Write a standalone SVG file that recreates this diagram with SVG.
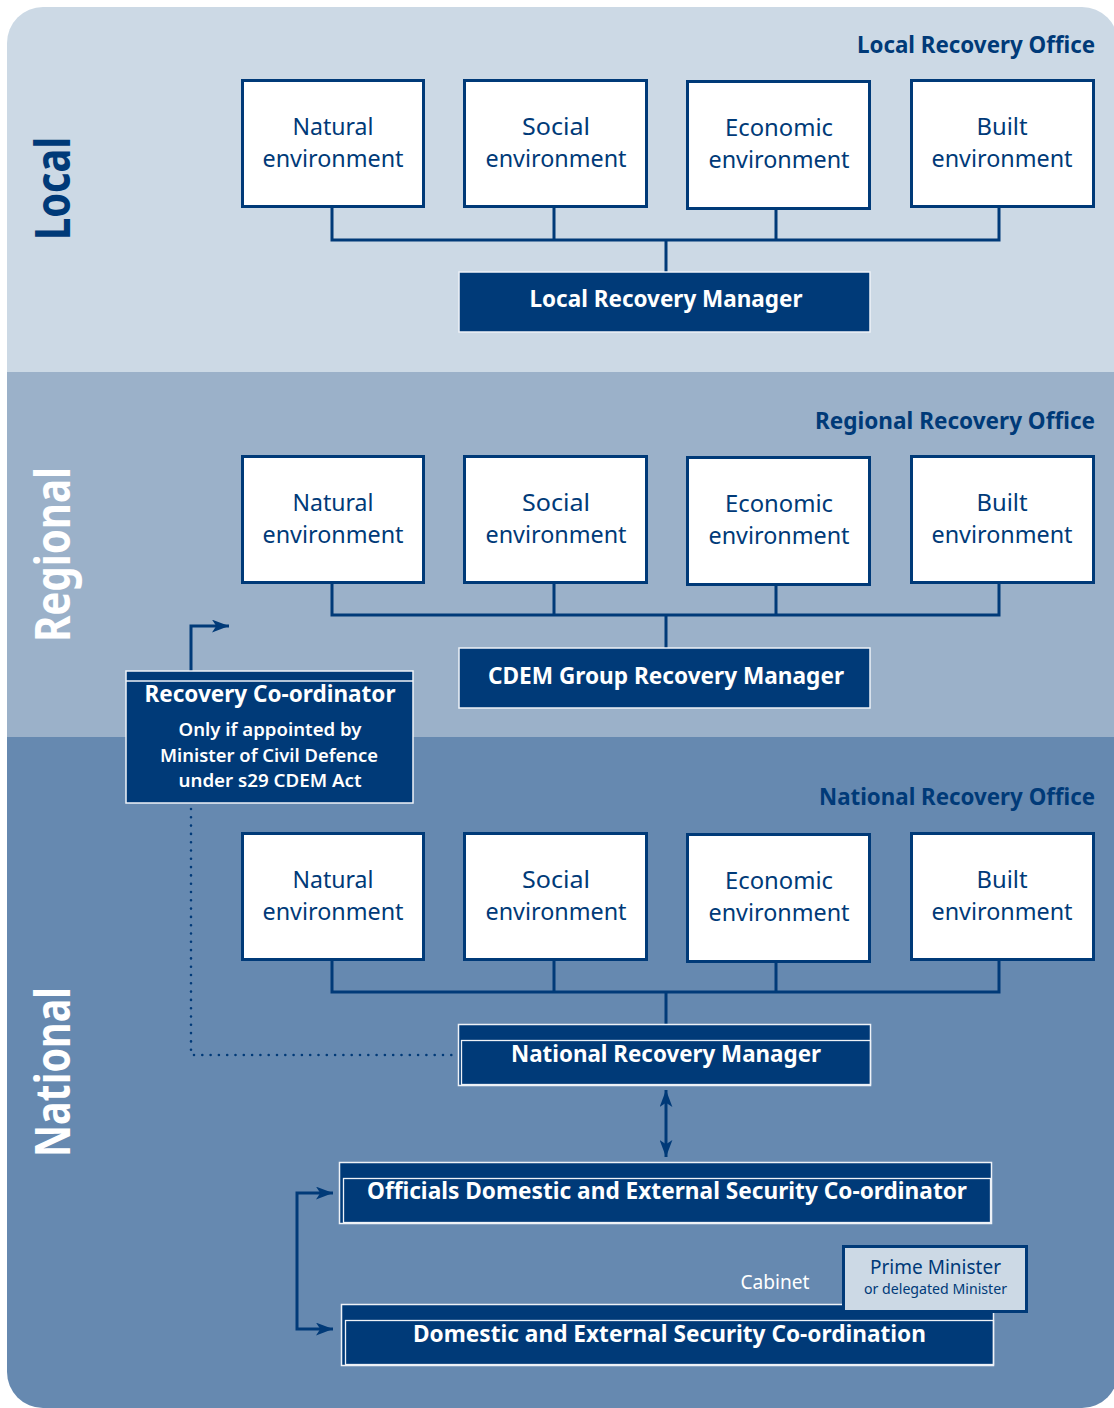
<svg xmlns="http://www.w3.org/2000/svg" width="1114" height="1408" viewBox="0 0 1114 1408">
<defs>
<style>
.env{fill:#fff;stroke:#003A78;stroke-width:3}
.et{font-family:"Noto Sans","Open Sans",sans-serif;font-size:24px;fill:#003A78;text-anchor:middle}
.mgr{fill:#003A78;stroke:#EEF2F7;stroke-width:1.5}
.inner{fill:none;stroke:#EEF2F7;stroke-width:1.3}
.mt{font-family:"Noto Sans","Open Sans",sans-serif;font-weight:bold;font-size:24px;fill:#fff;text-anchor:middle}
.st{font-family:"Noto Sans","Open Sans",sans-serif;font-weight:600;font-size:18px;fill:#fff;text-anchor:middle}
.office{font-family:"Noto Sans","Open Sans",sans-serif;font-weight:bold;font-size:23.5px;fill:#003A78}
.band{font-family:"Noto Sans","Open Sans",sans-serif;font-weight:bold;font-size:48px}
.ln{fill:none;stroke:#003A78;stroke-width:3}
.dot{fill:none;stroke:#003A78;stroke-width:2.6;stroke-linecap:round;stroke-dasharray:0 8.3}
</style>
<clipPath id="bg"><rect x="7" y="7" width="1111" height="1401" rx="36" ry="36"/></clipPath>
<marker id="ah" viewBox="0 0 16 12" markerWidth="17" markerHeight="13" refX="16" refY="6" orient="auto-start-reverse" markerUnits="userSpaceOnUse">
<path d="M0,0 L16,6 L0,12 L4,6 Z" fill="#003A78"/>
</marker>
</defs>
<rect x="0" y="0" width="1114" height="1408" fill="#fff"/>
<g id="background" clip-path="url(#bg)">
<rect x="7" y="7" width="1111" height="366" fill="#CCD9E5"/>
<rect x="7" y="372" width="1111" height="366" fill="#9BB1C9"/>
<rect x="7" y="737" width="1111" height="671" fill="#6689B0"/>
</g>
<g id="band-labels">
<text class="band" fill="#003A78" transform="translate(70,240) rotate(-90)" textLength="103" lengthAdjust="spacingAndGlyphs">Local</text>
<text class="band" fill="#fff" transform="translate(70,642) rotate(-90)" textLength="175" lengthAdjust="spacingAndGlyphs">Regional</text>
<text class="band" fill="#fff" transform="translate(70,1157) rotate(-90)" textLength="170" lengthAdjust="spacingAndGlyphs">National</text>
</g>
<g id="office-labels">
<text class="office" x="857" y="53" textLength="238" lengthAdjust="spacingAndGlyphs">Local Recovery Office</text>
<text class="office" x="815" y="429" textLength="280" lengthAdjust="spacingAndGlyphs">Regional Recovery Office</text>
<text class="office" x="819" y="805" textLength="276" lengthAdjust="spacingAndGlyphs">National Recovery Office</text>
</g>
<g id="connectors">
<path class="ln" d="M332,207 V240 M554,207 V240 M776,209 V240 M999,207 V240 M330.5,240 H1000.5 M666,240 V272"/>
<path class="ln" d="M332,583 V615 M554,583 V615 M776,585 V615 M999,583 V615 M330.5,615 H1000.5 M666,615 V648"/>
<path class="ln" d="M332,959 V992 M554,959 V992 M776,961 V992 M999,959 V992 M330.5,992 H1000.5 M666,992 V1025"/>
<path class="ln" d="M191,671 V626 H229" marker-end="url(#ah)"/>
<path class="dot" d="M191,809 V1055 H456"/>
<path class="ln" d="M666,1090 V1157" marker-start="url(#ah)" marker-end="url(#ah)"/>
<path class="ln" d="M333,1193 H297 V1329 H333" marker-start="url(#ah)" marker-end="url(#ah)"/>
</g>
<g id="local-natural"><rect class="env" x="242.5" y="80.5" width="181" height="126"/><text class="et" x="333" y="135" textLength="81" lengthAdjust="spacingAndGlyphs">Natural</text><text class="et" x="333" y="167" textLength="141" lengthAdjust="spacingAndGlyphs">environment</text></g>
<g id="local-social"><rect class="env" x="464.5" y="80.5" width="182" height="126"/><text class="et" x="556" y="135" textLength="68" lengthAdjust="spacingAndGlyphs">Social</text><text class="et" x="556" y="167" textLength="141" lengthAdjust="spacingAndGlyphs">environment</text></g>
<g id="local-economic"><rect class="env" x="687.5" y="81.5" width="182" height="127"/><text class="et" x="779" y="136" textLength="108" lengthAdjust="spacingAndGlyphs">Economic</text><text class="et" x="779" y="168" textLength="141" lengthAdjust="spacingAndGlyphs">environment</text></g>
<g id="local-built"><rect class="env" x="911.5" y="80.5" width="182" height="126"/><text class="et" x="1002" y="135" textLength="51" lengthAdjust="spacingAndGlyphs">Built</text><text class="et" x="1002" y="167" textLength="141" lengthAdjust="spacingAndGlyphs">environment</text></g>
<g id="local-recovery-manager"><rect class="mgr" x="459" y="272" width="411" height="60"/><text class="mt" x="666" y="307" textLength="273" lengthAdjust="spacingAndGlyphs">Local Recovery Manager</text></g>

<g id="regional-natural"><rect class="env" x="242.5" y="456.5" width="181" height="126"/><text class="et" x="333" y="511" textLength="81" lengthAdjust="spacingAndGlyphs">Natural</text><text class="et" x="333" y="543" textLength="141" lengthAdjust="spacingAndGlyphs">environment</text></g>
<g id="regional-social"><rect class="env" x="464.5" y="456.5" width="182" height="126"/><text class="et" x="556" y="511" textLength="68" lengthAdjust="spacingAndGlyphs">Social</text><text class="et" x="556" y="543" textLength="141" lengthAdjust="spacingAndGlyphs">environment</text></g>
<g id="regional-economic"><rect class="env" x="687.5" y="457.5" width="182" height="127"/><text class="et" x="779" y="512" textLength="108" lengthAdjust="spacingAndGlyphs">Economic</text><text class="et" x="779" y="544" textLength="141" lengthAdjust="spacingAndGlyphs">environment</text></g>
<g id="regional-built"><rect class="env" x="911.5" y="456.5" width="182" height="126"/><text class="et" x="1002" y="511" textLength="51" lengthAdjust="spacingAndGlyphs">Built</text><text class="et" x="1002" y="543" textLength="141" lengthAdjust="spacingAndGlyphs">environment</text></g>
<g id="cdem-group-recovery-manager"><rect class="mgr" x="459" y="648" width="411" height="60"/><text class="mt" x="666" y="684" textLength="356" lengthAdjust="spacingAndGlyphs">CDEM Group Recovery Manager</text></g>

<g id="recovery-coordinator">
<rect class="mgr" x="126" y="671" width="287" height="132"/>
<path class="inner" d="M126,681 H413"/>
<text class="mt" x="270" y="702" textLength="251" lengthAdjust="spacingAndGlyphs">Recovery Co-ordinator</text>
<text class="st" x="270" y="736" textLength="183" lengthAdjust="spacingAndGlyphs">Only if appointed by</text>
<text class="st" x="269" y="762" textLength="218" lengthAdjust="spacingAndGlyphs">Minister of Civil Defence</text>
<text class="st" x="270" y="787" textLength="183" lengthAdjust="spacingAndGlyphs">under s29 CDEM Act</text>
</g>

<g id="national-natural"><rect class="env" x="242.5" y="833.5" width="181" height="126"/><text class="et" x="333" y="888" textLength="81" lengthAdjust="spacingAndGlyphs">Natural</text><text class="et" x="333" y="920" textLength="141" lengthAdjust="spacingAndGlyphs">environment</text></g>
<g id="national-social"><rect class="env" x="464.5" y="833.5" width="182" height="126"/><text class="et" x="556" y="888" textLength="68" lengthAdjust="spacingAndGlyphs">Social</text><text class="et" x="556" y="920" textLength="141" lengthAdjust="spacingAndGlyphs">environment</text></g>
<g id="national-economic"><rect class="env" x="687.5" y="834.5" width="182" height="127"/><text class="et" x="779" y="889" textLength="108" lengthAdjust="spacingAndGlyphs">Economic</text><text class="et" x="779" y="921" textLength="141" lengthAdjust="spacingAndGlyphs">environment</text></g>
<g id="national-built"><rect class="env" x="911.5" y="833.5" width="182" height="126"/><text class="et" x="1002" y="888" textLength="51" lengthAdjust="spacingAndGlyphs">Built</text><text class="et" x="1002" y="920" textLength="141" lengthAdjust="spacingAndGlyphs">environment</text></g>

<g id="national-recovery-manager">
<rect class="mgr" x="458.5" y="1024.5" width="412" height="61"/>
<rect class="inner" x="461.5" y="1040.5" width="409" height="44"/>
<text class="mt" x="666" y="1062" textLength="310" lengthAdjust="spacingAndGlyphs">National Recovery Manager</text>
</g>

<g id="odesc">
<rect class="mgr" x="339.5" y="1162.5" width="652" height="61"/>
<rect class="inner" x="343.5" y="1178.5" width="647" height="44"/>
<text class="mt" x="667" y="1199" textLength="600" lengthAdjust="spacingAndGlyphs">Officials Domestic and External Security Co-ordinator</text>
</g>

<g id="desc">
<rect class="mgr" x="341.5" y="1304.5" width="652" height="61"/>
<rect class="inner" x="345.5" y="1320.5" width="648" height="44"/>
<text class="mt" x="669.5" y="1342" textLength="513" lengthAdjust="spacingAndGlyphs">Domestic and External Security Co-ordination</text>
</g>

<g id="cabinet-label">
<text x="775" y="1289" font-family="Noto Sans, Open Sans, sans-serif" font-size="20" fill="#fff" text-anchor="middle" textLength="69" lengthAdjust="spacingAndGlyphs">Cabinet</text>
</g>

<g id="prime-minister">
<rect x="843.5" y="1246.5" width="183" height="65" fill="#CCD9E5" stroke="#003A78" stroke-width="3"/>
<text x="935.5" y="1274" font-family="Noto Sans, Open Sans, sans-serif" font-size="19" fill="#003A78" text-anchor="middle" textLength="131" lengthAdjust="spacingAndGlyphs">Prime Minister</text>
<text x="935.5" y="1294" font-family="Noto Sans, Open Sans, sans-serif" font-size="14" fill="#003A78" text-anchor="middle" textLength="143" lengthAdjust="spacingAndGlyphs">or delegated Minister</text>
</g>
</svg>
